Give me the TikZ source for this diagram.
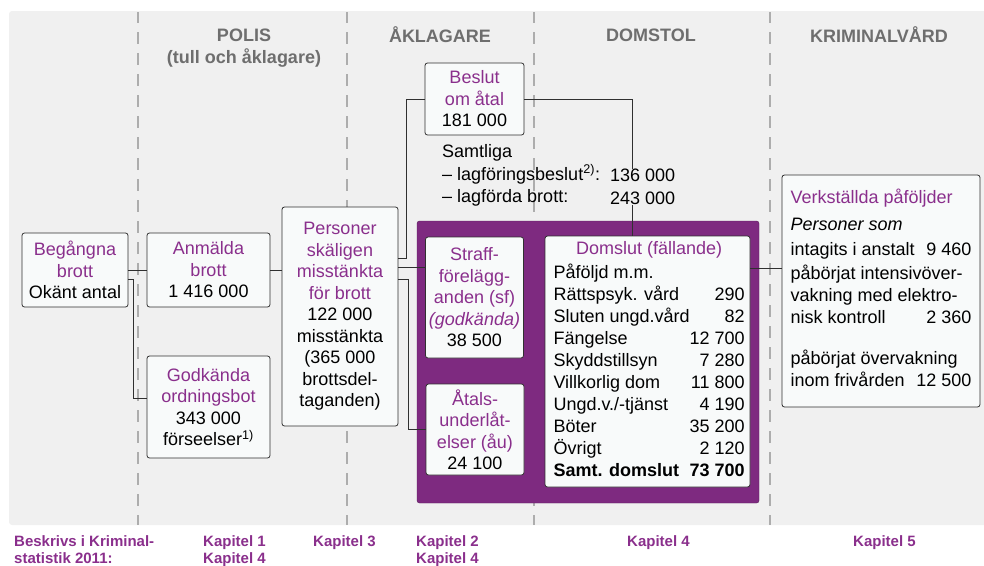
\documentclass[tikz,border=0pt]{standalone}
\usepackage{fontspec}
\setmainfont{Liberation Sans}
\usepackage{xcolor}
\definecolor{Plum}{HTML}{7E2A80}
\definecolor{PlumText}{HTML}{8A2F8C}
\definecolor{PanelGray}{HTML}{F0F0F0}
\definecolor{HeadGray}{HTML}{6E6E6E}
\definecolor{DashGray}{HTML}{ADADAD}
\definecolor{BoxFill}{HTML}{F8FAFA}
\definecolor{Wire}{HTML}{303030}
\newcommand{\tl}[1]{\textcolor{PlumText}{#1}}

\begin{document}
\begin{tikzpicture}[x=1pt,y=-1pt,
    box/.style={draw=Wire,fill=BoxFill,rounded corners=2.5pt,line width=0.8pt,align=center,
      inner sep=0pt,font=\fontsize{18}{21.5}\selectfont},
    head/.style={text=HeadGray,font=\fontsize{18}{22}\selectfont\bfseries},
    chap/.style={text=PlumText,font=\fontsize{15}{17}\selectfont\bfseries,align=left,
      anchor=north west,inner sep=0pt},
    wire/.style={draw=Wire,line width=0.8pt},
    body/.style={font=\fontsize{18}{22.5}\selectfont,inner sep=0pt}]
    \useasboundingbox (0,0) rectangle (984,565);
    \fill[PanelGray,rounded corners=3pt] (9,11) rectangle (990,525);
    \foreach \x in {138,347,534,770}
      \draw[DashGray,line width=1.3pt,dash pattern=on 12pt off 9pt,dash phase=1pt] (\x,12) -- (\x,525);

    \node[head] (polis) at (244,35) {POLIS};
    \node[head] (tull) at (244,58) {(tull och åklagare)};
    \node[head] (akl) at (440,35) {ÅKLAGARE};
    \node[head] (dom) at (651,35) {DOMSTOL};
    \node[head] (krim) at (879,35) {KRIMINALVÅRD};

    \node[fill=Plum,draw=Plum!70!black,rounded corners=2.5pt,minimum width=342pt,minimum height=282pt]
      (frame) at (588,362) {};

    \node[box,minimum width=106pt,minimum height=74pt] (beg) at (75,270)
      {\tl{Begångna}\\\tl{brott}\\Okänt antal};
    \node[box,minimum width=123pt,minimum height=74pt] (anm) at (208.5,270)
      {\tl{Anmälda}\\\tl{brott}\\1 416 000};
    \node[box,minimum width=123pt,minimum height=102pt] (god) at (208.5,407)
      {\tl{Godkända}\\\tl{ordningsbot}\\343 000\\förseelser\textsuperscript{1)}};
    \node[box,minimum width=116pt,minimum height=219pt] (per) at (340,316.5)
      {\tl{Personer}\\\tl{skäligen}\\\tl{misstänkta}\\\tl{för brott}\\122 000\\misstänkta\\(365 000\\brottsdel-\\taganden)};
    \node[box,minimum width=99pt,minimum height=72pt] (bes) at (474.5,99)
      {\tl{Beslut}\\\tl{om åtal}\\181 000};
    \node[box,minimum width=98pt,minimum height=121pt] (sf) at (474.5,297.5)
      {\tl{Straff-}\\\tl{förelägg-}\\\tl{anden (sf)}\\\tl{\textit{(godkända)}}\\38 500};
    \node[box,minimum width=98pt,minimum height=91pt] (au) at (475,429.5)
      {\tl{Åtals-}\\\tl{underlåt-}\\\tl{elser (åu)}\\24 100};
    \node[box,minimum width=205pt,minimum height=251pt,font=\fontsize{18}{22}\selectfont] (fall) at (647.5,361.5)
      {\begin{tabular*}{188pt}{@{}l@{\extracolsep{\fill}}r@{}}
        \multicolumn{2}{c}{\tl{Domslut (fällande)}}\\[2pt]
        Påföljd m.m. & \\
        Rättspsyk. vård & 290\\
        Sluten ungd.vård & 82\\
        Fängelse & 12 700\\
        Skyddstillsyn & 7 280\\
        Villkorlig dom & 11 800\\
        Ungd.v./-tjänst & 4 190\\
        Böter & 35 200\\
        Övrigt & 2 120\\
        \textbf{Samt. domslut} & \textbf{73 700}
      \end{tabular*}};
    \node[box,minimum width=198pt,minimum height=232pt,font=\fontsize{18}{22}\selectfont] (verk) at (881,291)
      {\begin{tabular*}{181pt}{@{}l@{\extracolsep{\fill}}r@{}}
        \multicolumn{2}{@{}l@{}}{\tl{Verkställda påföljder}}\\[5pt]
        \multicolumn{2}{@{}l@{}}{\textit{Personer som}}\\[3pt]
        intagits i anstalt & 9 460\\[2pt]
        \multicolumn{2}{@{}l@{}}{påbörjat intensivöver-}\\
        \multicolumn{2}{@{}l@{}}{vakning med elektro-}\\
        nisk kontroll & 2 360\\[19pt]
        \multicolumn{2}{@{}l@{}}{påbörjat övervakning}\\
        inom frivården & 12 500
      \end{tabular*}};

    \draw[wire] (beg.east) -- (anm.west);
    \draw[wire] (beg.-10) -- ++(5,0) |- (god.172);
    \draw[wire] (anm.east) -- (anm.east -| per.west);
    \draw[wire] (per.north east) ++(0,52) -- ++(8,0) |- (bes.west);
    \draw[wire] (sf.149) -- (sf.149 -| per.east);
    \draw[wire] (per.north east) ++(0,73) -- ++(10,0) |- (au.west);
    \draw[wire] (bes.east) -| (fall.97);
    \draw[wire] (fall.42) -- (fall.42 -| verk.west);

    \node[body,align=left,anchor=west] (samt) at (442,175.5)
      {Samtliga\\– lagföringsbeslut\textsuperscript{2)}:\\– lagförda brott:};
    \node[body,align=left,anchor=west,fill=PanelGray] (samtnum) at (610,187)
      {136 000\\243 000};

    \node[chap] (besk) at (14,535) {Beskrivs i Kriminal-\\statistik 2011:};
    \node[chap] (kap14) at (203,535) {Kapitel 1\\Kapitel 4};
    \node[chap] (kap3) at (313,535) {Kapitel 3};
    \node[chap] (kap24) at (416,535) {Kapitel 2\\Kapitel 4};
    \node[chap] (kap4) at (627,535) {Kapitel 4};
    \node[chap] (kap5) at (853,535) {Kapitel 5};
  \end{tikzpicture}
\end{document}
